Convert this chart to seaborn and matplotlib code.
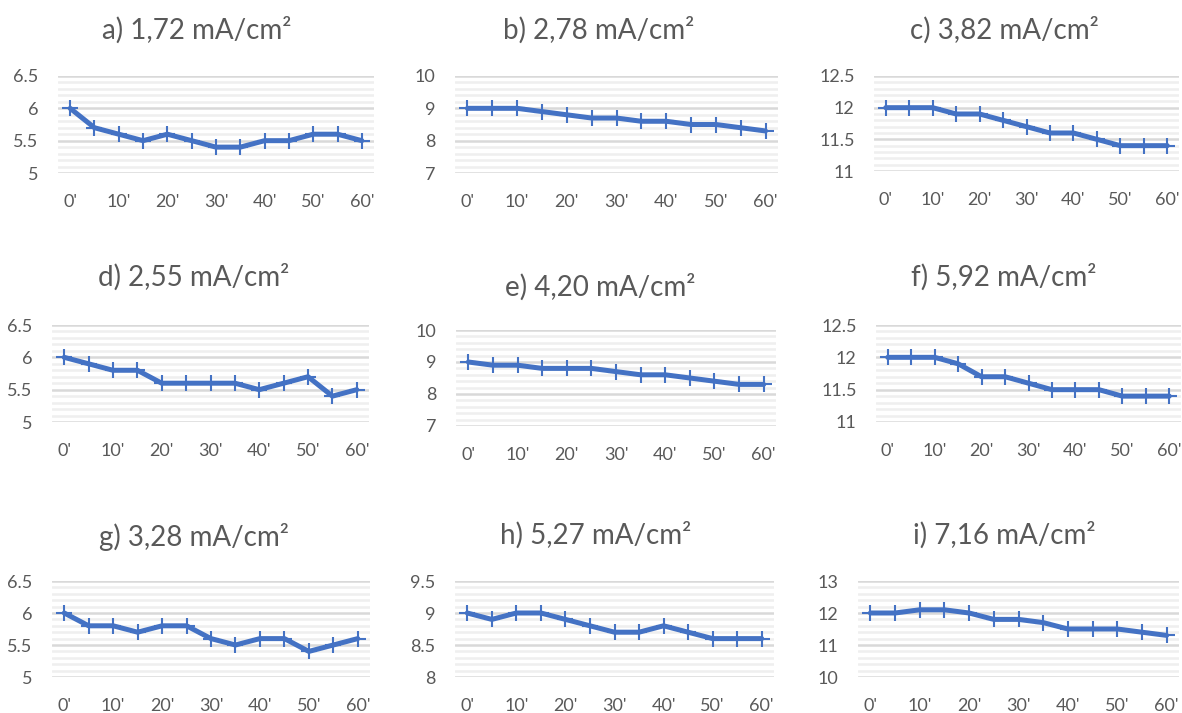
import matplotlib
matplotlib.use("Agg")
import matplotlib.pyplot as plt
import numpy as np
import pandas as pd
import seaborn as sns
from matplotlib.ticker import MultipleLocator, FuncFormatter

# time points (minutes) and their labels
minutes = [0, 5, 10, 15, 20, 25, 30, 35, 40, 45, 50, 55, 60]
tick_labels = [f"{m}'" if m % 10 == 0 else "" for m in minutes]

titles = ["a) 1,72 mA/cm²", "b) 2,78 mA/cm²", "c) 3,82 mA/cm²",
          "d) 2,55 mA/cm²", "e) 4,20 mA/cm²", "f) 5,92 mA/cm²",
          "g) 3,28 mA/cm²", "h) 5,27 mA/cm²", "i) 7,16 mA/cm²"]

a_vals = [6.0, 5.7, 5.6, 5.5, 5.6, 5.5, 5.4, 5.4, 5.5, 5.5, 5.6, 5.6, 5.5]
b_vals = [9.0, 9.0, 9.0, 8.9, 8.8, 8.7, 8.7, 8.6, 8.6, 8.5, 8.5, 8.4, 8.3]
c_vals = [12.0, 12.0, 12.0, 11.9, 11.9, 11.8, 11.7, 11.6, 11.6, 11.5, 11.4, 11.4, 11.4]
d_vals = [6.0, 5.9, 5.8, 5.8, 5.6, 5.6, 5.6, 5.6, 5.5, 5.6, 5.7, 5.4, 5.5]
e_vals = [9.0, 8.9, 8.9, 8.8, 8.8, 8.8, 8.7, 8.6, 8.6, 8.5, 8.4, 8.3, 8.3]
f_vals = [12.0, 12.0, 12.0, 11.9, 11.7, 11.7, 11.6, 11.5, 11.5, 11.5, 11.4, 11.4, 11.4]
g_vals = [6.0, 5.8, 5.8, 5.7, 5.8, 5.8, 5.6, 5.5, 5.6, 5.6, 5.4, 5.5, 5.6]
h_vals = [9.0, 8.9, 9.0, 9.0, 8.9, 8.8, 8.7, 8.7, 8.8, 8.7, 8.6, 8.6, 8.6]
i_vals = [12.0, 12.0, 12.1, 12.1, 12.0, 11.8, 11.8, 11.7, 11.5, 11.5, 11.5, 11.4, 11.3]
series = [a_vals, b_vals, c_vals, d_vals, e_vals, f_vals, g_vals, h_vals, i_vals]

# y axis ranges: (min, max, major step)
y_ranges = [(5, 6.5, 0.5), (7, 10, 1), (11, 12.5, 0.5),
            (5, 6.5, 0.5), (7, 10, 1), (11, 12.5, 0.5),
            (5, 6.5, 0.5), (8, 9.5, 0.5), (10, 13, 1)]

# layout in pixels: plot box (left, right, top, bottom), title centre (x, y)
W, H = 1182, 713
boxes = [(58, 374, 76, 173), (455, 778, 76, 173), (874, 1179, 76, 171),
         (52, 369, 325, 422), (456, 776, 330, 426), (876, 1181, 325, 422),
         (52, 370, 581, 677), (455, 774, 581, 677), (858, 1179, 581, 677)]
title_pos = [(197, 30), (599, 30), (1004, 30),
             (194, 277), (600, 287), (1004, 277),
             (194, 537), (596, 535), (1004, 535)]

sns.set_style("white")
plt.rcParams["font.family"] = ["Lato", "DejaVu Sans"]

fig = plt.figure(figsize=(W / 100, H / 100), dpi=100)
text_col = "#595959"
line_col = "#4472C4"

for k in range(9):
    l, r, t, b = boxes[k]
    ax = fig.add_axes([l / W, 1 - b / H, (r - l) / W, (b - t) / H])
    df = pd.DataFrame({"idx": np.arange(len(minutes)), "val": series[k]})
    sns.lineplot(data=df, x="idx", y="val", ax=ax, color=line_col, lw=3.6,
                 marker="+", markersize=12, markeredgewidth=1.5,
                 markeredgecolor=line_col, zorder=3)
    ymin, ymax, step = y_ranges[k]
    ax.set_ylim(ymin, ymax)
    ax.set_xlim(-0.5, len(minutes) - 0.5)
    ax.yaxis.set_major_locator(MultipleLocator(step))
    ax.yaxis.set_minor_locator(MultipleLocator(step / 5))
    ax.yaxis.set_major_formatter(FuncFormatter(lambda v, p: f"{v:g}"))
    ax.set_xticks(np.arange(len(minutes)))
    ax.set_xticklabels(tick_labels)
    ax.grid(axis="y", which="major", color="#D9D9D9", lw=1.8)
    ax.grid(axis="y", which="minor", color="#EFEFEF", lw=1.8)
    ax.grid(axis="x", visible=False)
    ax.set_axisbelow(True)
    for s in ax.spines.values():
        s.set_visible(False)
    ax.tick_params(axis="both", which="both", length=0, labelsize=13,
                   labelcolor=text_col)
    ax.tick_params(axis="y", pad=14)
    ax.tick_params(axis="x", pad=15)
    ax.set_xlabel("")
    ax.set_ylabel("")
    tx, ty = title_pos[k]
    fig.text(tx / W, 1 - ty / H, titles[k], ha="center", va="center",
             fontsize=20, color=text_col)

fig.savefig("out.png", dpi=100)
